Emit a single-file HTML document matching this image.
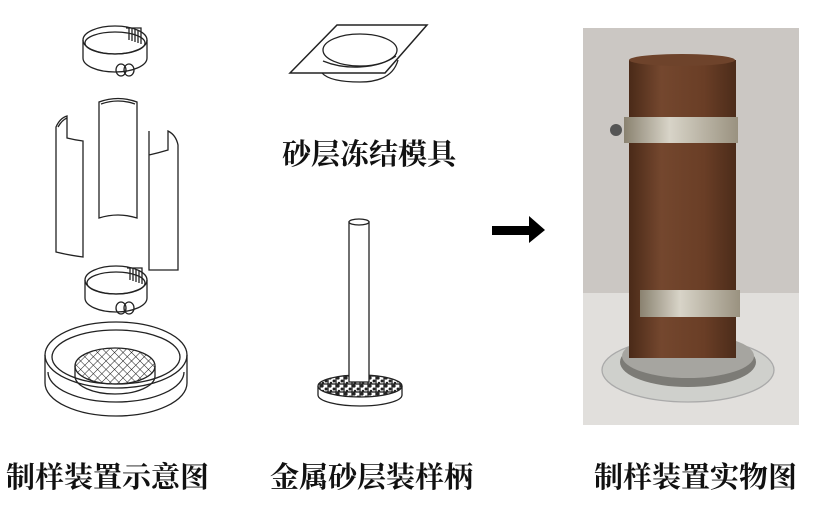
<!DOCTYPE html>
<html><head><meta charset="utf-8"><style>
html,body{margin:0;padding:0;background:#fff;}
.c{position:relative;width:829px;height:523px;overflow:hidden;font-family:"Noto Serif CJK SC","Noto Sans CJK SC",serif;}
.t{position:absolute;font-size:29px;line-height:30px;color:#111;white-space:nowrap;font-weight:bold;}
</style></head><body><div class="c">
<svg width="829" height="523" style="position:absolute;left:0;top:0" fill="none" stroke="#222" stroke-width="1.3">
<defs>
<pattern id="m" width="6" height="6" patternUnits="userSpaceOnUse" patternTransform="rotate(45)"><path d="M0 0H6M0 0V6" stroke="#222" stroke-width="1"/></pattern>
<pattern id="s" width="8" height="8" patternUnits="userSpaceOnUse"><rect width="8" height="8" fill="#fff"/><circle cx="2" cy="2" r="1" fill="#333"/><circle cx="6" cy="5" r="0.8" fill="#555"/><circle cx="3" cy="7" r="0.6" fill="#444"/></pattern>
<linearGradient id="cyl" x1="0" x2="1"><stop offset="0" stop-color="#4a2a18"/><stop offset="0.3" stop-color="#74472e"/><stop offset="0.7" stop-color="#6a3e26"/><stop offset="1" stop-color="#4c2c1a"/></linearGradient>
<linearGradient id="band" x1="0" x2="1"><stop offset="0" stop-color="#8a8270"/><stop offset="0.4" stop-color="#d8d4c8"/><stop offset="1" stop-color="#9a9280"/></linearGradient>
</defs>
<!-- top clamp -->
<ellipse cx="115" cy="40" rx="32" ry="14"/>
<ellipse cx="115" cy="43" rx="30" ry="11"/>
<path d="M83 40 V58 A32 14 0 0 0 147 58 V40"/>
<path d="M126 28 H141 V44" /><path d="M129 28 V40 M132 28 V41 M135 29 V42 M138 30 V43"/>
<ellipse cx="121" cy="70" rx="5" ry="6"/><ellipse cx="129" cy="70" rx="5" ry="6"/>
<!-- center shell -->
<path d="M99 102 Q118 95 137 102 V218 Q118 212 99 218 Z"/>
<path d="M101 104 Q118 98 135 104"/>
<!-- left shell -->
<path d="M56 127 Q60 118 67 116 V138 Q75 140 83 141 V257 Q68 255 56 252 Z"/>
<path d="M58 127 Q62 120 67 118"/>
<!-- right shell -->
<path d="M149 131 V270 H178 V145 Q176 135 168 131 V150 Q158 153 149 155"/>
<!-- lower clamp -->
<ellipse cx="116" cy="280" rx="31" ry="14"/>
<ellipse cx="116" cy="283" rx="29" ry="11"/>
<path d="M85 280 V298 A31 14 0 0 0 147 298 V280"/>
<path d="M127 268 H142 V284"/><path d="M130 268 V280 M133 268 V281 M136 269 V282 M139 270 V283"/>
<ellipse cx="121" cy="308" rx="5" ry="6"/><ellipse cx="129" cy="308" rx="5" ry="6"/>
<!-- base -->
<ellipse cx="116" cy="355" rx="71" ry="33"/>
<ellipse cx="116" cy="357" rx="64" ry="27"/>
<path d="M45 355 V383 A71 33 0 0 0 187 383 V355"/>
<path d="M48 372 A68 30 0 0 0 184 372"/>
<ellipse cx="115" cy="366" rx="40" ry="18" fill="url(#m)"/>
<path d="M75 366 V376 A40 18 0 0 0 155 376 V366"/>
<!-- mould plate -->
<path d="M290 73 L337 25 L427 25 L385 73 Z" stroke-width="1.5"/>
<ellipse cx="360" cy="50" rx="37" ry="16"/>
<path d="M323 61 Q340 68 360 67 Q382 66 396 56"/>
<path d="M322 73 Q330 82 360 82 Q392 82 398 60"/>
<!-- stick -->
<ellipse cx="360" cy="386" rx="42" ry="11" fill="url(#s)"/>
<path d="M318 386 V395 A42 11 0 0 0 402 395 V386"/>
<rect x="349" y="222" width="20" height="160" fill="#fff"/>
<ellipse cx="359" cy="222" rx="10" ry="3" fill="#fff"/>
<!-- arrow -->
<path d="M492 226 H529 V216 L545 230 L529 243 V235 H492 Z" fill="#000" stroke="none"/>
<!-- photo -->
<rect x="583" y="28" width="216" height="397" fill="#cbc7c3" stroke="none"/>
<rect x="583" y="293" width="216" height="132" fill="#e1dfdc" stroke="none"/>
<ellipse cx="688" cy="370" rx="86" ry="32" fill="#cfd0cc" stroke="#aaa"/>
<ellipse cx="688" cy="362" rx="68" ry="25" fill="#7c7b76" stroke="none"/>
<ellipse cx="688" cy="356" rx="66" ry="22" fill="#a6a5a0" stroke="none"/>
<rect x="629" y="60" width="107" height="298" fill="url(#cyl)" stroke="none"/>
<ellipse cx="682" cy="60" rx="53" ry="6" fill="#6e432b" stroke="none"/>
<rect x="624" y="117" width="114" height="26" fill="url(#band)" stroke="none"/>
<rect x="640" y="290" width="100" height="27" fill="url(#band)" stroke="none"/>
<circle cx="616" cy="130" r="6" fill="#555" stroke="none"/>
</svg>
<div class="t" style="left:282px;top:138px;">砂层冻结模具</div>
<div class="t" style="left:6px;top:461px;">制样装置示意图</div>
<div class="t" style="left:270px;top:461px;">金属砂层装样柄</div>
<div class="t" style="left:594px;top:461px;">制样装置实物图</div>
</div></body></html>
